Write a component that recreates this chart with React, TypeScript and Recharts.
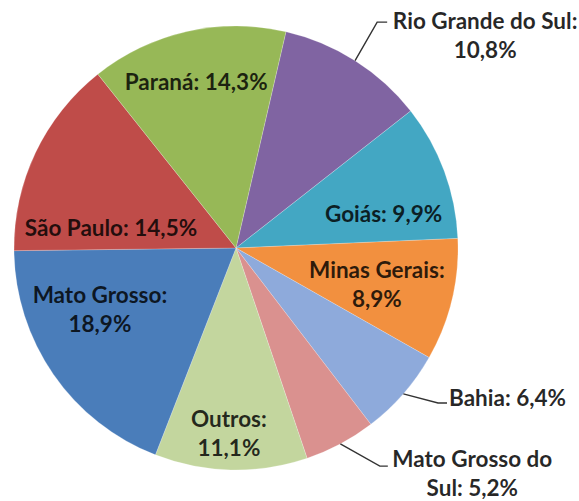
import React from 'react';
import { PieChart, Pie, Cell } from 'recharts';

const states = ['Rio Grande do Sul', 'Goiás', 'Minas Gerais', 'Bahia', 'Mato Grosso do Sul', 'Outros', 'Mato Grosso', 'São Paulo', 'Paraná'];
const shares = [10.8, 9.9, 8.9, 6.4, 5.2, 11.1, 18.9, 14.5, 14.3];
const colors = ['#8064A2', '#43A7C3', '#F2903F', '#8EAADB', '#DA918F', '#C3D69E', '#4A7DBA', '#BF4C49', '#97B857'];

const rows = states.map((name, i) => ({ name, value: shares[i] }));

// where Excel put each label: angle clockwise from 12 o'clock, radius as a fraction of the pie radius
const spots: Record<string, any> = {
  'Rio Grande do Sul': { angle: 49.5, radius: 1.476, wrap: 4, elbow: { angle: 32, radius: 1.2 }, tail: 10 },
  'Goiás': { angle: 76.7, radius: 0.683, wrap: 0 },
  'Minas Gerais': { angle: 104.3, radius: 0.655, wrap: 2 },
  'Bahia': { angle: 118.9, radius: 1.397, wrap: 0, elbow: { angle: 127.5, radius: 1.147 }, tail: 9 },
  'Mato Grosso do Sul': { angle: 133.6, radius: 1.47, wrap: 3, elbow: { angle: 146.6, radius: 1.177 }, tail: 8 },
  'Outros': { angle: 182.2, radius: 0.832, wrap: 1 },
  'Mato Grosso': { angle: 246, radius: 0.671, wrap: 2 },
  'São Paulo': { angle: 279.5, radius: 0.571, wrap: 0 },
  'Paraná': { angle: 346.5, radius: 0.769, wrap: 0 },
};

const RAD = Math.PI / 180;
const polar = (cx: number, cy: number, r: number, cw: number) => ({
  x: cx + r * Math.sin(cw * RAD),
  y: cy - r * Math.cos(cw * RAD),
});

const LINE_GAP = 29;

const renderLabel = (props: any) => {
  const { cx, cy, midAngle, outerRadius, name, value } = props;
  const spot = spots[name];
  const text = `${name}: ${value.toFixed(1).replace('.', ',')}%`;
  const words = text.split(' ');
  const lines = spot.wrap ? [words.slice(0, spot.wrap).join(' '), words.slice(spot.wrap).join(' ')] : [text];
  const pos = polar(cx, cy, outerRadius * spot.radius, spot.angle);
  const top = pos.y - ((lines.length - 1) * LINE_GAP) / 2;

  let leader = null;
  if (spot.elbow) {
    const start = polar(cx, cy, outerRadius, 90 - midAngle);
    const elbow = polar(cx, cy, outerRadius * spot.elbow.radius, spot.elbow.angle);
    leader = (
      <polyline
        points={`${start.x},${start.y} ${elbow.x},${elbow.y} ${elbow.x + spot.tail},${elbow.y}`}
        fill="none"
        stroke="#333"
        strokeWidth={1.4}
      />
    );
  }

  return (
    <g key={name}>
      {leader}
      {lines.map((line, i) => (
        <text
          key={i}
          x={pos.x}
          y={top + i * LINE_GAP}
          textAnchor="middle"
          dominantBaseline="central"
          fill="#000"
          fillOpacity={spot.elbow ? 0.85 : 0.82}
          fontFamily="Lato, 'Open Sans', sans-serif"
          fontWeight={700}
          fontSize={22.5}
        >
          {line}
        </text>
      ))}
    </g>
  );
};

export default function App() {
  return (
    <div style={{ position: 'absolute', left: 0, top: 0, background: '#fff' }}>
      <PieChart width={579} height={501} margin={{ top: 0, right: 0, bottom: 0, left: 0 }}>
        <Pie
          data={rows}
          dataKey="value"
          nameKey="name"
          cx={236}
          cy={248}
          outerRadius={222}
          startAngle={77}
          endAngle={-283}
          stroke="rgba(255,255,255,0.35)"
          strokeWidth={0.6}
          label={renderLabel}
          labelLine={false}
          isAnimationActive={false}
        >
          {rows.map((row, i) => (
            <Cell key={row.name} fill={colors[i]} />
          ))}
        </Pie>
      </PieChart>
    </div>
  );
}
